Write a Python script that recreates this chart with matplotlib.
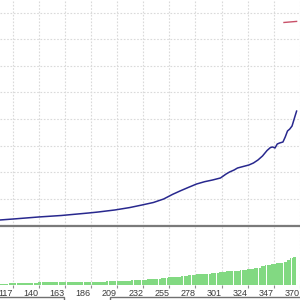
import numpy as np
import matplotlib
matplotlib.use("Agg")
import matplotlib.pyplot as plt
from matplotlib.lines import Line2D
from matplotlib.patches import Rectangle

plt.rcParams['font.family'] = ['Liberation Sans', 'DejaVu Sans']

#DATA
trade_ticks = [117, 140, 163, 186, 209, 232, 255, 278, 301, 324, 347, 370]

bal_trade = [106, 120, 140, 160, 184, 192, 207, 220, 231, 241, 250, 258, 265,
             272, 279, 286, 293, 300, 305, 308, 312, 315, 320, 325, 329, 333,
             337, 341, 344, 346, 348, 350, 352, 355, 357, 359, 361, 363, 365.4, 367]
balance = [207, 252, 320, 376, 470, 505, 583, 673, 771, 865, 996, 1173, 1308,
           1436, 1560, 1646, 1710, 1786, 1936, 2011, 2086, 2161, 2218, 2274, 2349, 2462,
           2613, 2819, 2932, 2951, 2913, 3064, 3101, 3139, 3327, 3552, 3627, 3740, 4079, 4300]

red_trade = [355.9, 367]
red_value = [7632, 7672]

# lot size steps: trade where a lot size starts, and the lot size
lot_start = [106, 114, 124, 140, 160, 200, 212, 222, 230, 236, 242, 248, 254, 260,
             266, 272, 279, 286, 292, 299, 305, 312, 318, 324, 330, 336, 340, 345,
             349, 352, 356, 359, 362, 364, 367]
lot_size = [0.02, 0.04, 0.05, 0.06, 0.07, 0.08, 0.09, 0.10, 0.11, 0.12, 0.13, 0.14, 0.16, 0.17,
            0.19, 0.20, 0.22, 0.23, 0.24, 0.26, 0.28, 0.29, 0.30, 0.32, 0.35, 0.38, 0.40, 0.42,
            0.44, 0.45, 0.47, 0.50, 0.54, 0.57]

#FIGURE
fig = plt.figure(figsize=(3, 3), dpi=100)
fig.patch.set_facecolor('white')

xmin, xmax = 106.0, 365.4
gridcol = '#dadada'

ax = fig.add_axes([0, 74 / 300, 1, 226 / 300])
ax.plot(bal_trade, balance, color='#28288e', lw=1.1)
ax.plot(red_trade, red_value, color='#c85068', lw=1.0)
ax.set_xlim(xmin, xmax)
ax.set_ylim(-19, 8477)
ax.set_xticks(trade_ticks)
ax.set_yticks(np.arange(0, 9000, 1000))
ax.tick_params(length=0, labelbottom=False, labelleft=False)
ax.grid(True, color=gridcol, ls=(0, (1.5, 1.5)), lw=0.8)
for s in ax.spines.values():
    s.set_visible(False)

# lot histogram
trades = []
lots = []
for i in range(len(lot_size)):
    for t in range(lot_start[i], lot_start[i + 1]):
        trades.append(t)
        lots.append(lot_size[i])

ax2 = fig.add_axes([0, 15 / 300, 1, 58 / 300])
ax2.bar(trades, lots, width=0.9, color='#82d982', linewidth=0)
ax2.set_xlim(xmin, xmax)
ax2.set_ylim(0, 1.16)
ax2.set_xticks(trade_ticks)
ax2.set_xticklabels([str(t) for t in trade_ticks])
ax2.set_yticks([])
ax2.tick_params(axis='x', length=2, pad=1, color='#909090', labelsize=6.5,
                labelcolor='#3a3a3a')
plt.setp(ax2.get_xticklabels(), ha='right')
ax2.grid(True, axis='x', color=gridcol, ls=(0, (1.5, 1.5)), lw=0.8)
ax2.set_axisbelow(True)
for s in ax2.spines.values():
    s.set_visible(False)

# separator between the panels
fig.add_artist(Line2D([0, 1], [74 / 300, 74 / 300], color='#7a7a7a', lw=1.6))

# legend frames cut off at the bottom
fig.add_artist(Rectangle((-0.01, -0.05), 64 / 300 + 0.01, 0.06, fill=False,
                         ec='#707070', lw=1.0, transform=fig.transFigure))
fig.add_artist(Rectangle((110 / 300, -0.05), 0.7, 0.06, fill=False,
                         ec='#707070', lw=1.0, transform=fig.transFigure))

plt.savefig('out.png', dpi=100)
